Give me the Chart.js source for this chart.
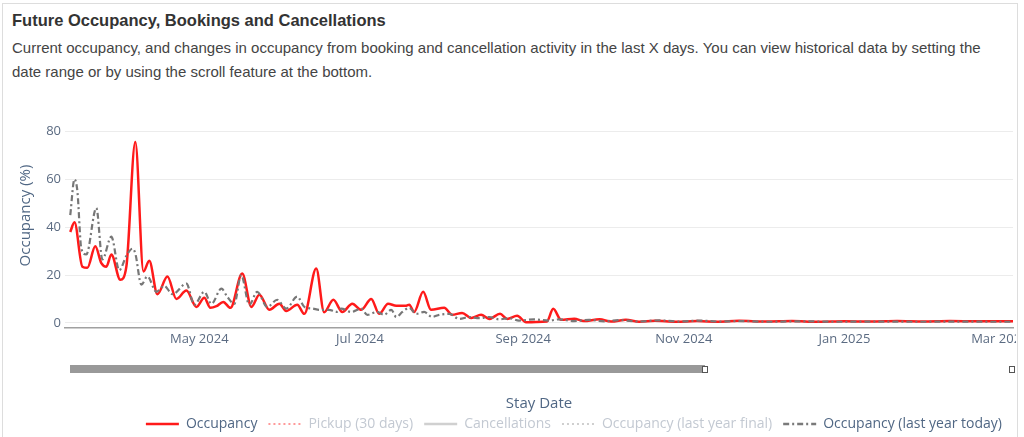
<!DOCTYPE html>
<html>
<head>
<meta charset="utf-8">
<script src="https://cdn.jsdelivr.net/npm/chart.js@4.4.1/dist/chart.umd.min.js"></script>
<style>
  html, body { margin: 0; padding: 0; background: #fff; overflow: hidden; }
  body { width: 1024px; height: 437px; position: relative; }
  .card { position: absolute; left: 2px; top: 3px; width: 1014px; height: 460px; border: 1px solid #ddd; }
  h1 { position: absolute; left: 12px; top: 11px; margin: 0; font: bold 16.5px "Liberation Sans", sans-serif; color: #333; }
  p.sub { position: absolute; left: 12px; top: 36px; width: 990px; margin: 0; font: 15px/24px "Liberation Sans", sans-serif; color: #444; }
  #wrap { position: absolute; left: 0; top: 90px; width: 1016px; height: 351px; }
  .bar { position: absolute; left: 70px; top: 365px; width: 635px; height: 8px; background: #999; }
  .handle { position: absolute; top: 366px; width: 4px; height: 5px; border: 1px solid #555; background: #fff; }
</style>
</head>
<body>
<div class="card"></div>
<h1>Future Occupancy, Bookings and Cancellations</h1>
<p class="sub">Current occupancy, and changes in occupancy from booking and cancellation activity in the last X days. You can view historical data by setting the date range or by using the scroll feature at the bottom.</p>
<div id="wrap"><canvas id="occChart"></canvas></div>
<div class="bar"></div>
<div class="handle" style="left:702px"></div>
<div class="handle" style="left:1009px"></div>
<script>
// дни от 11 марта 2024
const tickDays = [51, 112, 174, 235, 296, 355];
const tickLabels = ['May 2024', 'Jul 2024', 'Sep 2024', 'Nov 2024', 'Jan 2025', 'Mar 2025'];
const yTicks = [0, 20, 40, 60, 80];

// Occupancy
const occDays = [2, 3.6, 6.6, 8.5, 11.5, 13.8, 15.7, 17.6, 21, 23.3, 26.7, 29.8, 32, 35.1, 38.9, 42.3, 46.1, 49.9, 52.9, 55.2,
  57.5, 60.1, 62.8, 67.3, 70.8, 73.8, 77.6, 81.4, 84, 88.2, 90.9, 95.4, 98.4, 101.9, 105.3, 109.1, 112.5, 116.3, 119.3, 122.7,
  125.8, 129.6, 130.7, 132.6, 136, 139, 144, 147, 150.8, 154.3, 158, 161.1, 165.2, 167.9, 171.7, 175.1, 178.9, 183, 185.4, 188.4,
  193.4, 197, 203, 207.4, 213, 218, 224, 232, 240, 248, 256, 266, 276, 286, 296, 306, 316, 326, 336, 346, 360];
const occValues = [38, 42, 23.5, 23, 32, 25, 23.5, 28.6, 18, 23.5, 75.5, 21.5, 26, 12, 19.4, 10, 13.5, 6.7, 10.5, 6.3,
  7, 8.8, 6.3, 20.6, 6.7, 11.8, 5.5, 8, 5, 7.6, 3.8, 22.7, 4.5, 9.7, 4.6, 8, 5.5, 10, 3.8, 8,
  7.2, 7.2, 7.6, 4.6, 13, 5.5, 6.3, 3.4, 4.2, 2.1, 3.4, 1.7, 3.8, 1.7, 3, 0.3, 0.4, 0.6, 5.9, 1.3,
  1.8, 0.8, 1.5, 0.6, 1.3, 0.5, 0.9, 0.5, 0.8, 0.5, 0.9, 0.6, 0.8, 0.5, 0.7, 0.6, 0.8, 0.6, 0.8, 0.7, 0.7];

// Occupancy (last year today)
const lyDays = [2, 3.6, 4.7, 6.2, 8.1, 11.9, 14.2, 17.6, 20.6, 23.3, 25.6, 26.7, 29, 31.3, 34.7, 37.7, 40.8, 46.1, 49.1, 52.9,
  55.6, 59.4, 61.6, 64.3, 66.9, 70, 73, 76.8, 80.6, 84, 88.2, 90.9, 94.1, 96.5, 100.3, 103, 104.9, 108.7, 112.5, 114.8,
  118.6, 121.2, 123.9, 125.8, 128.1, 130.7, 133.4, 136.4, 139.4, 142.1, 145.9, 149.7, 153.5, 157.3, 161.1, 164.9, 168.7, 172.4, 178.1, 183.8,
  187.6, 193.3, 199, 204.8, 210.5, 218, 225.6, 233, 240.8, 248.4, 256, 267, 278.7, 293.9, 309, 324, 339, 354, 360];
const lyValues = [45, 60, 55, 31, 28.6, 48, 26.5, 36, 22, 28, 31, 29, 16, 19.4, 13, 15.5, 12, 16.4, 7.6, 13,
  8, 14.3, 11, 8, 20, 7.6, 13, 6.7, 9.7, 6, 11, 6.7, 6, 5.5, 5.5, 4.6, 6, 4.6, 6, 3.4,
  4.6, 3.4, 5.5, 2.5, 4.6, 6.3, 3.8, 4.6, 2.5, 3.4, 3.8, 1.7, 2.5, 2, 2.5, 1.5, 2, 1, 1.5, 1,
  1.5, 0.8, 1.3, 0.7, 1.2, 0.6, 1.1, 0.6, 1, 0.6, 0.8, 0.5, 0.7, 0.5, 0.6, 0.5, 0.6, 0.5, 0.5];

const toPoints = (days, vals) => days.map((d, i) => ({ x: d, y: vals[i] }));
const tickColor = '#5b6b82';

const legendStyles = [
  { text: 'Occupancy', stroke: '#ff1a1a', width: 2.5, dash: [], font: '#506784' },
  { text: 'Pickup (30 days)', stroke: '#ff9a9a', width: 2, dash: [2, 3], font: '#c3c9d2' },
  { text: 'Cancellations', stroke: '#d0d0d0', width: 2.5, dash: [], font: '#c3c9d2' },
  { text: 'Occupancy (last year final)', stroke: '#cfcfcf', width: 2, dash: [2, 3], font: '#c3c9d2' },
  { text: 'Occupancy (last year today)', stroke: '#7a7a7a', width: 2.5, dash: [6, 3, 2, 3], font: '#506784' }
];

const ctx = document.getElementById('occChart').getContext('2d');
new Chart(ctx, {
  type: 'line',
  data: {
    datasets: [
      { label: 'Occupancy', data: toPoints(occDays, occValues), borderColor: '#ff1a1a', borderWidth: 2.5, tension: 0.4, cubicInterpolationMode: 'monotone', pointRadius: 0, order: 2 },
      { label: 'Pickup (30 days)', data: [], borderColor: '#ff9a9a', borderWidth: 2, borderDash: [2, 3], pointRadius: 0 },
      { label: 'Cancellations', data: [], borderColor: '#d0d0d0', borderWidth: 2, pointRadius: 0 },
      { label: 'Occupancy (last year final)', data: [], borderColor: '#cfcfcf', borderWidth: 2, borderDash: [2, 3], pointRadius: 0 },
      { label: 'Occupancy (last year today)', data: toPoints(lyDays, lyValues), borderColor: '#777777', borderWidth: 2.2, borderDash: [6, 3, 2, 3], tension: 0.4, cubicInterpolationMode: 'monotone', pointRadius: 0, order: 1 }
    ]
  },
  options: {
    responsive: true,
    maintainAspectRatio: false,
    animation: false,
    layout: { padding: { top: 13, left: 0, right: 3, bottom: 0 } },
    plugins: {
      tooltip: { enabled: false },
      legend: {
        position: 'bottom',
        align: 'end',
        labels: {
          usePointStyle: true,
          pointStyleWidth: 33,
          padding: 11,
          font: { family: 'Open Sans', size: 14 },
          generateLabels: () => legendStyles.map((s, i) => ({
            text: s.text,
            datasetIndex: i,
            pointStyle: 'line',
            strokeStyle: s.stroke,
            fillStyle: s.stroke,
            lineWidth: s.width,
            lineDash: s.dash,
            fontColor: s.font,
            hidden: false
          }))
        }
      }
    },
    scales: {
      x: {
        type: 'linear',
        min: 0,
        max: 360,
        afterBuildTicks: scale => { scale.ticks = tickDays.map(v => ({ value: v })); },
        afterFit: scale => { scale.height = 78; scale.paddingLeft = 0; scale.paddingRight = 0; },
        grid: { display: false, drawTicks: false },
        border: { display: true, color: '#a0a0a0', width: 1.5 },
        ticks: {
          padding: 3,
          maxRotation: 0,
          autoSkip: false,
          color: tickColor,
          font: { family: 'Open Sans', size: 13 },
          callback: value => tickLabels[tickDays.indexOf(value)]
        },
        title: {
          display: true,
          text: 'Stay Date',
          color: '#506784',
          font: { family: 'Open Sans', size: 15 },
          padding: { top: 0, bottom: -7 }
        }
      },
      y: {
        min: -2.1,
        max: 91.8,
        afterBuildTicks: scale => { scale.ticks = yTicks.map(v => ({ value: v })); },
        afterFit: scale => { scale.width = 65; },
        grid: { color: '#ececec', drawTicks: false },
        border: { display: false },
        ticks: {
          padding: 4,
          color: tickColor,
          font: { family: 'Open Sans', size: 13 }
        },
        title: {
          display: true,
          text: 'Occupancy (%)',
          color: '#506784',
          font: { family: 'Open Sans', size: 15 },
          padding: { top: 17, bottom: 0 }
        }
      }
    }
  }
});
</script>
</body>
</html>
